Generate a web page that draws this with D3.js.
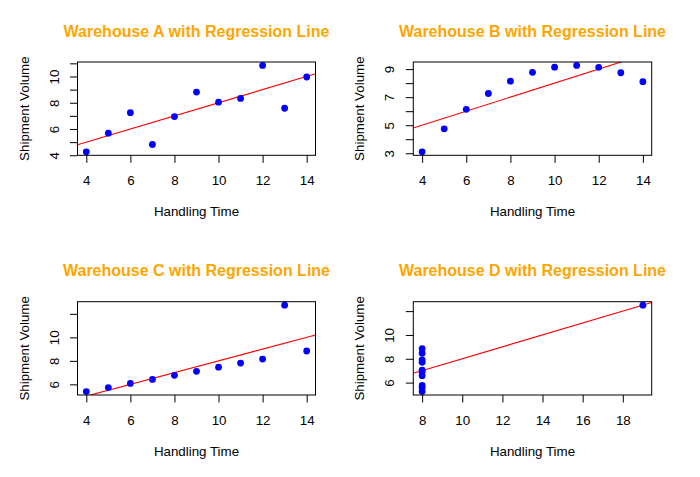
<!DOCTYPE html>
<html>
<head>
<meta charset="utf-8">
<script src="https://cdn.jsdelivr.net/npm/d3@7"></script>
<style>
  html, body { margin: 0; padding: 0; background: #fff; }
  svg { display: block; font-family: "Liberation Sans", Arial, sans-serif; }
</style>
</head>
<body>
<svg id="chart" width="700" height="477"></svg>
<script>
// ---- data ----
const panelNames = ["Warehouse A", "Warehouse B", "Warehouse C", "Warehouse D"];
const xA = [10, 8, 13, 9, 11, 14, 6, 4, 12, 7, 5];
const yA = [8.04, 6.95, 7.58, 8.81, 8.33, 9.96, 7.24, 4.26, 10.84, 4.82, 5.68];
const xB = [10, 8, 13, 9, 11, 14, 6, 4, 12, 7, 5];
const yB = [9.14, 8.14, 8.74, 8.77, 9.26, 8.10, 6.13, 3.10, 9.13, 7.26, 4.74];
const xC = [10, 8, 13, 9, 11, 14, 6, 4, 12, 7, 5];
const yC = [7.46, 6.77, 12.74, 7.11, 7.81, 8.84, 6.08, 5.39, 8.15, 6.42, 5.73];
const xD = [8, 8, 8, 8, 8, 8, 8, 19, 8, 8, 8];
const yD = [6.58, 5.76, 7.71, 8.84, 8.47, 7.04, 5.25, 12.50, 5.56, 7.91, 6.89];

const xTicksABC = [4, 6, 8, 10, 12, 14];
const xTicksD = [8, 10, 12, 14, 16, 18];
const yTicksA = [4, 5, 6, 7, 8, 9, 10, 11];
const yLabelsA = [4, 6, 8, 10];
const yTicksB = [3, 4, 5, 6, 7, 8, 9];
const yLabelsB = [3, 5, 7, 9];
const yTicksC = [6, 8, 10, 12];
const yLabelsC = [6, 8, 10];
const yTicksD = [6, 8, 10, 12];
const yLabelsD = [6, 8, 10];

const xLabel = "Handling Time";
const yLabel = "Shipment Volume";

// ---- layout ----
const cols = [[77.5, 315.5], [413.3, 651.7]];
const rows = [[62, 155.3], [301.7, 395]];

const panels = [
  {name: panelNames[0], x: xA, y: yA, xt: xTicksABC, yt: yTicksA, yl: yLabelsA, c: 0, r: 0},
  {name: panelNames[1], x: xB, y: yB, xt: xTicksABC, yt: yTicksB, yl: yLabelsB, c: 1, r: 0},
  {name: panelNames[2], x: xC, y: yC, xt: xTicksABC, yt: yTicksC, yl: yLabelsC, c: 0, r: 1},
  {name: panelNames[3], x: xD, y: yD, xt: xTicksD, yt: yTicksD, yl: yLabelsD, c: 1, r: 1}
];

const svg = d3.select("#chart");
const FS = 13.33;

function padExtent(arr) {
  const [lo, hi] = d3.extent(arr);
  const d = (hi - lo) * 0.04;
  return [lo - d, hi + d];
}

function fit(xs, ys) {
  const mx = d3.mean(xs), my = d3.mean(ys);
  let sxy = 0, sxx = 0;
  xs.forEach((x, i) => { sxy += (x - mx) * (ys[i] - my); sxx += (x - mx) * (x - mx); });
  const b = sxy / sxx;
  return {a: my - b * mx, b};
}

panels.forEach((p, idx) => {
  const [x0, x1] = cols[p.c];
  const [y0, y1] = rows[p.r];
  const xs = d3.scaleLinear().domain(padExtent(p.x)).range([x0, x1]);
  const ys = d3.scaleLinear().domain(padExtent(p.y)).range([y1, y0]);
  const g = svg.append("g");

  const clipId = "clip" + idx;
  svg.append("defs").append("clipPath").attr("id", clipId)
    .append("rect").attr("x", x0).attr("y", y0).attr("width", x1 - x0).attr("height", y1 - y0);

  // regression line
  const m = fit(p.x, p.y);
  const dom = xs.domain();
  g.append("line")
    .attr("clip-path", `url(#${clipId})`)
    .attr("x1", xs(dom[0])).attr("y1", ys(m.a + m.b * dom[0]))
    .attr("x2", xs(dom[1])).attr("y2", ys(m.a + m.b * dom[1]))
    .attr("stroke", "#ff0000").attr("stroke-width", 1.1);

  // points
  g.selectAll("circle.pt").data(p.x.map((v, i) => [v, p.y[i]])).enter()
    .append("circle").attr("class", "pt")
    .attr("cx", d => xs(d[0])).attr("cy", d => ys(d[1]))
    .attr("r", 3.4).attr("fill", "#0000ff");

  // box
  g.append("rect").attr("x", x0).attr("y", y0).attr("width", x1 - x0).attr("height", y1 - y0)
    .attr("fill", "none").attr("stroke", "#000").attr("stroke-width", 1);

  // x axis
  const xa = g.append("g").attr("transform", `translate(0,${y1})`)
    .call(d3.axisBottom(xs).tickValues(p.xt).tickSize(7.5).tickPadding(13).tickFormat(d3.format("d")));
  xa.select(".domain").remove();
  xa.selectAll("line").attr("stroke", "#000");
  xa.selectAll("text").attr("font-size", FS).attr("fill", "#000")
    .attr("font-family", "Liberation Sans, Arial, sans-serif");

  // y axis
  const ya = g.append("g").attr("transform", `translate(${x0},0)`)
    .call(d3.axisLeft(ys).tickValues(p.yt).tickSize(7.5)
      .tickFormat(d => p.yl.includes(d) ? String(d) : ""));
  ya.select(".domain").remove();
  ya.selectAll("line").attr("stroke", "#000");
  ya.selectAll("text")
    .attr("x", null).attr("dy", null)
    .attr("transform", "translate(-19,0) rotate(-90)")
    .attr("text-anchor", "middle")
    .attr("font-size", FS).attr("fill", "#000")
    .attr("font-family", "Liberation Sans, Arial, sans-serif");

  // title
  g.append("text").attr("x", (x0 + x1) / 2).attr("y", y0 - 25.5)
    .attr("text-anchor", "middle").attr("font-size", 16).attr("font-weight", "bold")
    .attr("fill", "#ffa500").text(p.name + " with Regression Line");

  // axis labels
  g.append("text").attr("x", (x0 + x1) / 2).attr("y", y1 + 61)
    .attr("text-anchor", "middle").attr("font-size", FS).attr("fill", "#000").text(xLabel);
  g.append("text")
    .attr("transform", `translate(${x0 - 49},${(y0 + y1) / 2}) rotate(-90)`)
    .attr("text-anchor", "middle").attr("font-size", FS).attr("fill", "#000").text(yLabel);
});
</script>
</body>
</html>
